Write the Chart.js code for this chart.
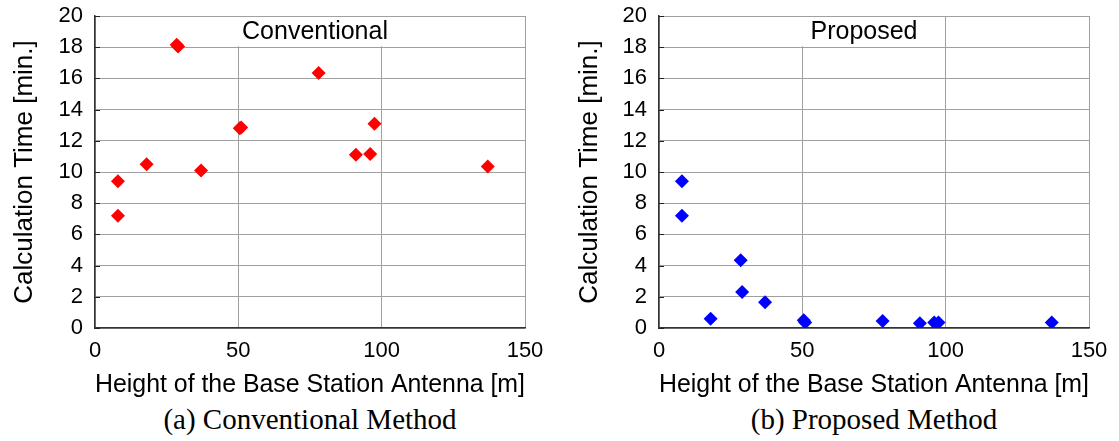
<!DOCTYPE html>
<html>
<head>
<meta charset="utf-8">
<script src="https://cdn.jsdelivr.net/npm/chart.js@4"></script>
<style>
  body { margin: 0; background: #fff; }
  #wrap { position: relative; width: 1119px; height: 441px; overflow: hidden; }
  .box { position: absolute; top: 0; width: 560px; height: 400px; }
  .cap { position: absolute; top: 401px; font-family: "Liberation Serif", "Times New Roman", serif; font-size: 29px; line-height: 36px; color: #000; text-align: center; }
</style>
</head>
<body>
<div id="wrap">
  <div class="box" style="left:0"><canvas id="chartA"></canvas></div>
  <div class="box" style="left:560px;width:559px"><canvas id="chartB"></canvas></div>
  <div class="cap" style="left:80px;width:460px">(a) Conventional Method</div>
  <div class="cap" style="left:644px;width:460px">(b) Proposed Method</div>
</div>
<script>
// antenna heights [m]
const heights = [8, 8, 18, 28.5, 29, 37, 50.5, 51, 78, 91, 96, 97.5, 137];
// calculation time [min.]
const conventionalTime = [9.4, 7.2, 10.5, 18.15, 18.05, 10.1, 12.8, 12.85, 16.35, 11.1, 11.15, 13.1, 10.35];
const proposedTime = [9.4, 7.2, 0.6, 4.35, 2.3, 1.65, 0.5, 0.35, 0.45, 0.3, 0.35, 0.35, 0.35];
const xTicks = [0, 50, 100, 150];
const yTicks = [0, 2, 4, 6, 8, 10, 12, 14, 16, 18, 20];

const sans = '"Liberation Sans", Arial, sans-serif';

function points(ys) {
    return heights.map((h, i) => ({ x: h, y: ys[i] }));
}

// white label box at the top of the plot
const labelBox = {
    id: 'labelBox',
    beforeDatasetsDraw(chart, args, opts) {
        const { ctx, chartArea, scales } = chart;
        const cx = (chartArea.left + chartArea.right) / 2 + opts.shift;
        const yLine = scales.y.getPixelForValue(18);
        ctx.save();
        ctx.font = '25px ' + sans;
        const w = ctx.measureText(opts.text).width + 24;
        ctx.fillStyle = '#fff';
        ctx.fillRect(cx - w / 2, chartArea.top + 1, w, yLine - chartArea.top - 2);
        ctx.fillStyle = '#000';
        ctx.textAlign = 'center';
        ctx.textBaseline = 'middle';
        ctx.fillText(opts.text, cx, (chartArea.top + yLine) / 2 + 1);
        // short inner ticks on the left axis
        ctx.strokeStyle = '#222';
        ctx.lineWidth = 1;
        yTicks.forEach(v => {
            const y = Math.round(scales.y.getPixelForValue(v)) + 0.5;
            ctx.beginPath();
            ctx.moveTo(chartArea.left, y);
            ctx.lineTo(chartArea.left + 5, y);
            ctx.stroke();
        });
        ctx.restore();
    }
};

function makeChart(id, ys, color, label, axisWidth, padRight, shift, titlePad) {
    const ctx = document.getElementById(id).getContext('2d');
    return new Chart(ctx, {
        type: 'scatter',
        data: {
            datasets: [{
                data: points(ys),
                pointStyle: 'rectRot',
                pointRadius: 7,
                pointHoverRadius: 7,
                backgroundColor: color,
                borderColor: color,
                borderWidth: 0
            }]
        },
        options: {
            responsive: true,
            maintainAspectRatio: false,
            animation: false,
            layout: { padding: { top: 16, right: padRight, left: 0, bottom: 0 } },
            plugins: {
                legend: { display: false },
                tooltip: { enabled: false },
                labelBox: { text: label, shift: shift }
            },
            scales: {
                x: {
                    type: 'linear',
                    min: 0,
                    max: 150,
                    afterBuildTicks: s => { s.ticks = xTicks.map(v => ({ value: v })); },
                    afterFit: s => { s.height = 72; s.paddingLeft = 0; s.paddingRight = 0; },
                    grid: { color: '#a0a0a0', tickLength: 0, drawTicks: false },
                    border: { color: '#333', width: 1.5 },
                    ticks: { color: '#000', font: { family: sans, size: 22 }, padding: 10, maxRotation: 0, autoSkip: false },
                    title: { display: true, text: 'Height of the Base Station Antenna [m]', color: '#000', font: { family: sans, size: 26 }, padding: { top: 0, bottom: 0 } }
                },
                y: {
                    min: 0,
                    max: 20,
                    afterBuildTicks: s => { s.ticks = yTicks.map(v => ({ value: v })); },
                    afterFit: s => { s.width = axisWidth; s.paddingTop = 0; s.paddingBottom = 0; },
                    grid: { color: '#a0a0a0', drawTicks: false },
                    border: { color: '#333', width: 1.5 },
                    ticks: { color: '#000', font: { family: sans, size: 22 }, padding: 12, autoSkip: false },
                    title: { display: true, text: 'Calculation Time [min.]', color: '#000', font: { family: sans, size: 26 }, padding: { top: titlePad, bottom: 0 } }
                }
            }
        },
        plugins: [labelBox]
    });
}

makeChart('chartA', conventionalTime, '#ff0000', 'Conventional', 95, 35, 5, 9);
makeChart('chartB', proposedTime, '#0000ff', 'Proposed', 99, 30, -10, 14);
</script>
</body>
</html>
